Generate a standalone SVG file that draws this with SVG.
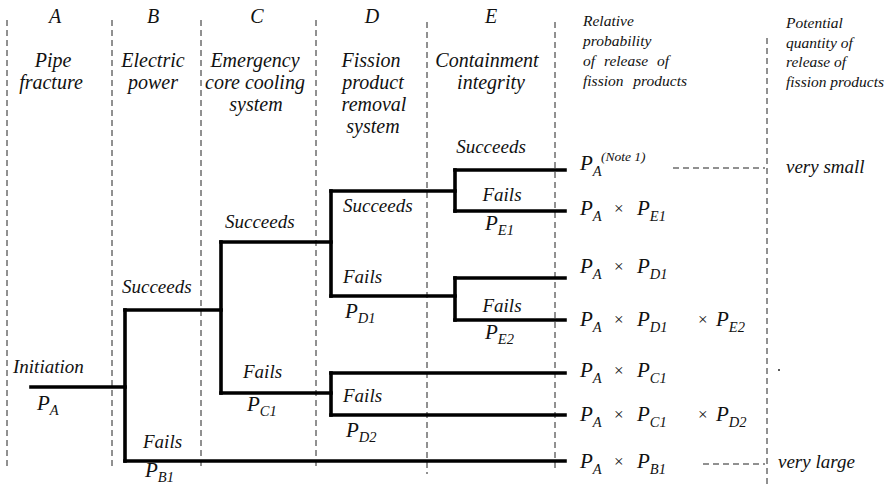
<svg xmlns="http://www.w3.org/2000/svg" width="892" height="491" viewBox="0 0 892 491">
  <style>
    text { font-family: "Liberation Serif", "DejaVu Serif", "Times New Roman", serif; font-style: italic; fill: #111; }
    .head { font-size: 20px; text-anchor: middle; }
    .lbl { font-size: 19px; }
    .p { font-size: 21px; }
    .sub { font-size: 14.5px; }
    .times { font-size: 17px; font-style: normal; }
    .col { font-size: 15.5px; }
    .note { font-size: 13.5px; }
    .guide { stroke: #222; stroke-width: 1; stroke-dasharray: 6 4; fill: none; }
    .branch { stroke: #000; stroke-width: 3.6; fill: none; stroke-linecap: square; }
  </style>

  <!-- column separators -->
  <g id="guides">
    <line class="guide" x1="7" y1="20" x2="7" y2="468"/>
    <line class="guide" x1="112" y1="20" x2="112" y2="468"/>
    <line class="guide" x1="201" y1="20" x2="201" y2="468"/>
    <line class="guide" x1="316" y1="20" x2="316" y2="468"/>
    <line class="guide" x1="427" y1="22" x2="427" y2="474"/>
    <line class="guide" x1="555" y1="22" x2="555" y2="472"/>
    <line class="guide" x1="767" y1="38" x2="767" y2="485"/>
  </g>

  <g font-family="Liberation Serif, DejaVu Serif, serif" font-style="italic">
  <!-- column headings -->
  <g id="head-A">
    <text class="head" x="55" y="23">A</text>
    <text class="head" x="53" y="67">Pipe</text>
    <text class="head" x="51" y="89">fracture</text>
  </g>
  <g id="head-B">
    <text class="head" x="153" y="23">B</text>
    <text class="head" x="153" y="67">Electric</text>
    <text class="head" x="153" y="89">power</text>
  </g>
  <g id="head-C">
    <text class="head" x="257" y="23">C</text>
    <text class="head" x="255" y="67">Emergency</text>
    <text class="head" x="255" y="89">core cooling</text>
    <text class="head" x="256" y="111">system</text>
  </g>
  <g id="head-D">
    <text class="head" x="372" y="23">D</text>
    <text class="head" x="371" y="67">Fission</text>
    <text class="head" x="373" y="89">product</text>
    <text class="head" x="374" y="111">removal</text>
    <text class="head" x="373" y="133">system</text>
  </g>
  <g id="head-E">
    <text class="head" x="491" y="23">E</text>
    <text class="head" x="487" y="67">Containment</text>
    <text class="head" x="491" y="89">integrity</text>
  </g>
  <g id="head-probability">
    <text class="col" x="583" y="26">Relative</text>
    <text class="col" x="583" y="46">probability</text>
    <text class="col" x="583" y="66" word-spacing="5">of release of</text>
    <text class="col" x="583" y="86" word-spacing="6">fission products</text>
  </g>
  <g id="head-quantity">
    <text class="col" x="786" y="28">Potential</text>
    <text class="col" x="786" y="48">quantity of</text>
    <text class="col" x="786" y="67">release of</text>
    <text class="col" x="786" y="87">fission products</text>
  </g>
  </g>

  <!-- event tree branches -->
  <g id="connectors">
    <!-- initiating event -->
    <path class="branch" d="M31,387 H125"/>
    <!-- B: electric power -->
    <path class="branch" d="M125,310 V461"/>
    <path class="branch" d="M125,310 H221"/>
    <path class="branch" d="M125,461 H565"/>
    <!-- C: emergency core cooling -->
    <path class="branch" d="M221,242 V393"/>
    <path class="branch" d="M221,242 H331"/>
    <path class="branch" d="M221,393 H331"/>
    <!-- D: fission product removal -->
    <path class="branch" d="M331,191 V296"/>
    <path class="branch" d="M331,191 H455"/>
    <path class="branch" d="M331,296 H455"/>
    <path class="branch" d="M331,373 V415"/>
    <path class="branch" d="M331,373 H565"/>
    <path class="branch" d="M331,415 H565"/>
    <!-- E: containment integrity -->
    <path class="branch" d="M455,170 V211"/>
    <path class="branch" d="M455,170 H565"/>
    <path class="branch" d="M455,211 H565"/>
    <path class="branch" d="M455,278 V320"/>
    <path class="branch" d="M455,278 H565"/>
    <path class="branch" d="M455,320 H565"/>
    <!-- leaders to release quantities -->
    <line class="guide" x1="673" y1="168" x2="765" y2="168"/>
    <line class="guide" x1="703" y1="464" x2="765" y2="464"/>
  </g>

  <g font-family="Liberation Serif, DejaVu Serif, serif" font-style="italic">
  <!-- branch labels -->
  <g id="label-initiation">
    <text class="lbl" x="13" y="373">Initiation</text>
    <text class="p" x="37" y="410">P<tspan class="sub" dy="5">A</tspan></text>
  </g>
  <g id="label-B">
    <text class="lbl" x="122" y="293">Succeeds</text>
    <text class="lbl" x="143" y="448">Fails</text>
    <text class="p" x="145" y="477">P<tspan class="sub" dy="5">B1</tspan></text>
  </g>
  <g id="label-C">
    <text class="lbl" x="225" y="228">Succeeds</text>
    <text class="lbl" x="243" y="378">Fails</text>
    <text class="p" x="247" y="411">P<tspan class="sub" dy="5">C1</tspan></text>
  </g>
  <g id="label-D">
    <text class="lbl" x="343" y="212">Succeeds</text>
    <text class="lbl" x="343" y="283">Fails</text>
    <text class="p" x="345" y="318">P<tspan class="sub" dy="5">D1</tspan></text>
    <text class="lbl" x="343" y="402">Fails</text>
    <text class="p" x="346" y="437">P<tspan class="sub" dy="5">D2</tspan></text>
  </g>
  <g id="label-E">
    <text class="lbl" x="491" y="153" text-anchor="middle">Succeeds</text>
    <text class="lbl" x="502" y="201" text-anchor="middle">Fails</text>
    <text class="p" x="485" y="230">P<tspan class="sub" dy="5">E1</tspan></text>
    <text class="lbl" x="502" y="312" text-anchor="middle">Fails</text>
    <text class="p" x="485" y="339">P<tspan class="sub" dy="5">E2</tspan></text>
  </g>

  <!-- outcome probabilities -->
  <g id="outcome-1">
    <text class="p" x="580" y="170">P<tspan class="sub" dy="6">A</tspan></text>
    <text class="note" x="601" y="161">(Note 1)</text>
    <text class="lbl" x="786" y="173">very small</text>
  </g>
  <g id="outcome-2">
    <text class="p" x="580" y="215">P<tspan class="sub" dy="6">A</tspan></text>
    <text class="times" x="614" y="214">×</text>
    <text class="p" x="637" y="215">P<tspan class="sub" dy="6">E1</tspan></text>
  </g>
  <g id="outcome-3">
    <text class="p" x="580" y="273">P<tspan class="sub" dy="6">A</tspan></text>
    <text class="times" x="614" y="272">×</text>
    <text class="p" x="637" y="273">P<tspan class="sub" dy="6">D1</tspan></text>
  </g>
  <g id="outcome-4">
    <text class="p" x="580" y="326">P<tspan class="sub" dy="6">A</tspan></text>
    <text class="times" x="614" y="325">×</text>
    <text class="p" x="637" y="326">P<tspan class="sub" dy="6">D1</tspan></text>
    <text class="times" x="698" y="325">×</text>
    <text class="p" x="716" y="326">P<tspan class="sub" dy="6">E2</tspan></text>
  </g>
  <g id="outcome-5">
    <text class="p" x="580" y="377">P<tspan class="sub" dy="6">A</tspan></text>
    <text class="times" x="614" y="376">×</text>
    <text class="p" x="637" y="377">P<tspan class="sub" dy="6">C1</tspan></text>
  </g>
  <g id="outcome-6">
    <text class="p" x="580" y="421">P<tspan class="sub" dy="6">A</tspan></text>
    <text class="times" x="614" y="420">×</text>
    <text class="p" x="637" y="421">P<tspan class="sub" dy="6">C1</tspan></text>
    <text class="times" x="698" y="420">×</text>
    <text class="p" x="716" y="421">P<tspan class="sub" dy="6">D2</tspan></text>
  </g>
  <g id="outcome-7">
    <text class="p" x="580" y="468">P<tspan class="sub" dy="6">A</tspan></text>
    <text class="times" x="614" y="467">×</text>
    <text class="p" x="637" y="468">P<tspan class="sub" dy="6">B1</tspan></text>
    <text class="lbl" x="778" y="468">very large</text>
  </g>
  </g>

  <circle cx="779" cy="370" r="1" fill="#222"/>
</svg>
